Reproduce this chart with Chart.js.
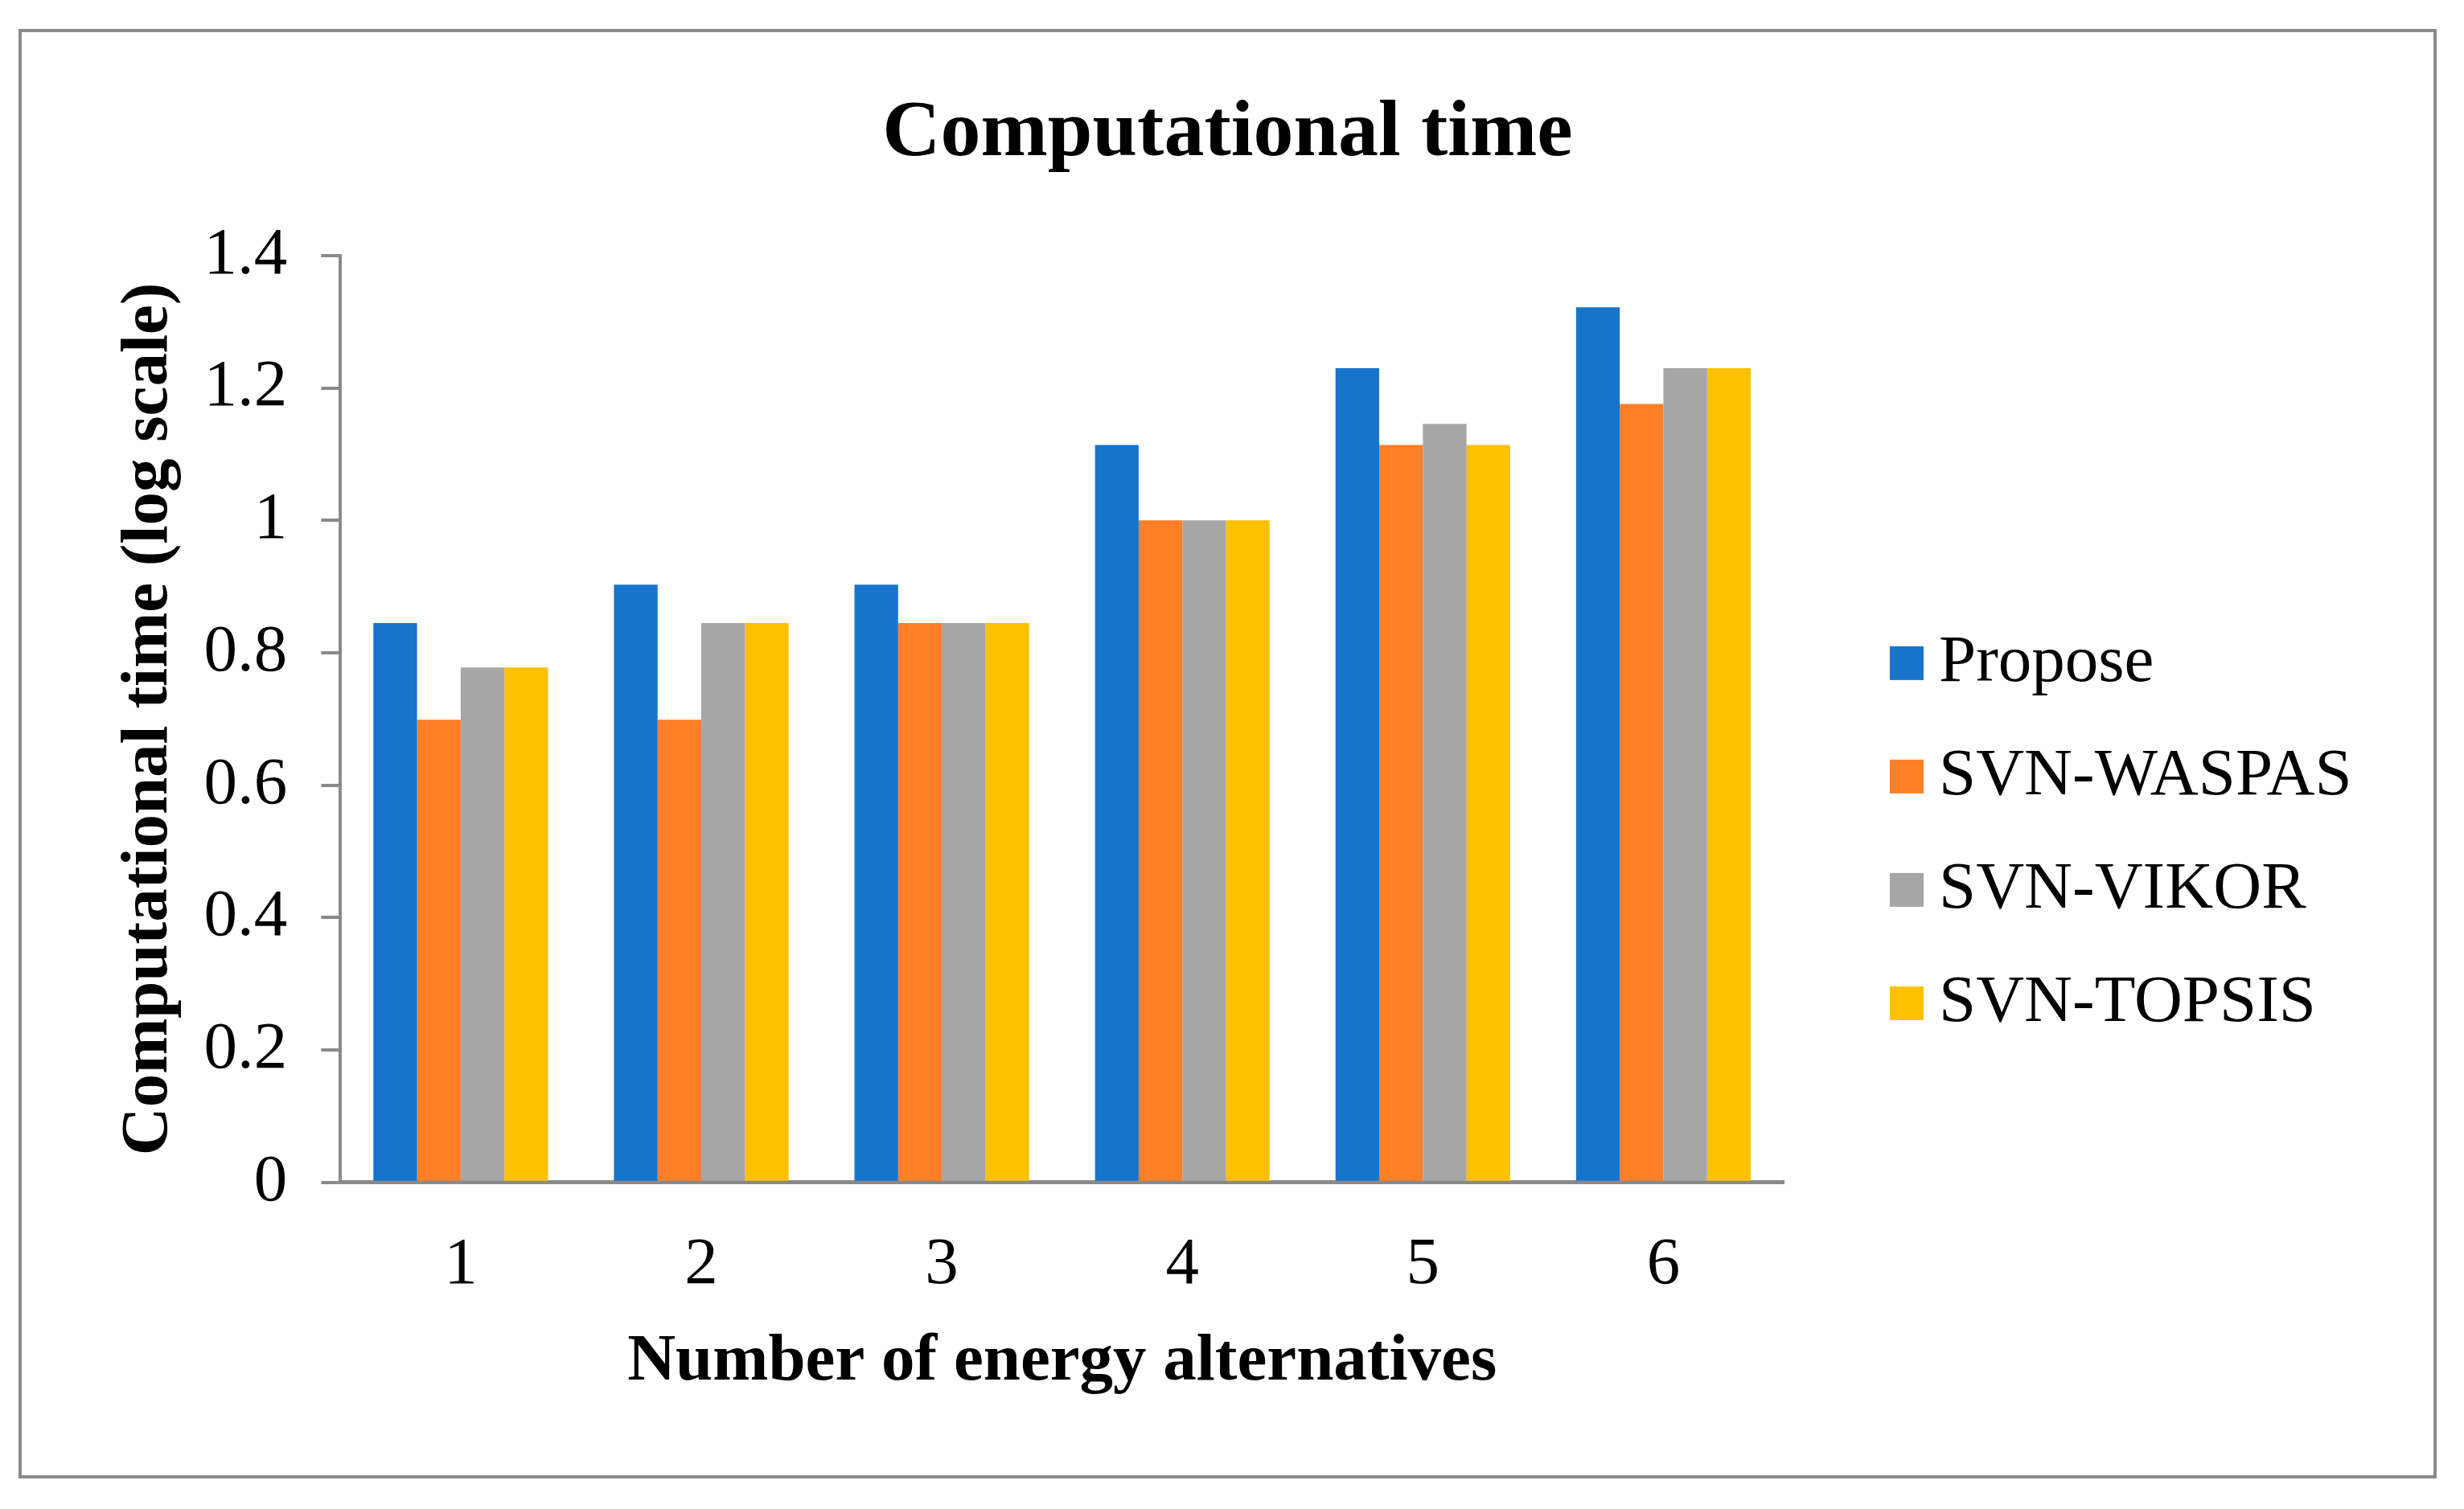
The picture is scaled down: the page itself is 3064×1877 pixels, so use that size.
<!DOCTYPE html>
<html>
<head>
<meta charset="utf-8">
<title>Computational time</title>
<script src="https://cdn.jsdelivr.net/npm/chart.js@4.4.0/dist/chart.umd.min.js"></script>
<style>
    html, body { margin: 0; padding: 0; background: #ffffff; }
    #marco {
        position: absolute;
        left: 23px;
        top: 36px;
        width: 3007px;
        height: 1803px;
        box-sizing: border-box;
        border: 4px solid #8a8a8a;
        background: #ffffff;
    }
    #myChart { display: block; }
</style>
</head>
<body>
<div id="marco">
    <canvas id="myChart" width="2999" height="1795"></canvas>
</div>
<script>
// datos (escala log)
const categorias = ['1', '2', '3', '4', '5', '6'];
const propose = [0.845, 0.903, 0.903, 1.114, 1.230, 1.322];
const waspas  = [0.699, 0.699, 0.845, 1.000, 1.114, 1.176];
const vikor   = [0.778, 0.845, 0.845, 1.000, 1.146, 1.230];
const topsis  = [0.778, 0.845, 0.845, 1.000, 1.114, 1.230];
const nombres = ['Propose', 'SVN-WASPAS', 'SVN-VIKOR', 'SVN-TOPSIS'];
const colores = ['#1874CB', '#FF7F27', '#A6A6A6', '#FFC000'];
const yTicks = [0, 0.2, 0.4, 0.6, 0.8, 1, 1.2, 1.4];
const yTickLabels = ['0', '0.2', '0.4', '0.6', '0.8', '1', '1.2', '1.4'];

const fuente = "'Liberation Serif', 'Times New Roman', serif";
const gris = '#8a8a8a';

const series = [propose, waspas, vikor, topsis];
const datasets = series.map((valores, i) => ({
    label: nombres[i],
    data: valores,
    backgroundColor: colores[i],
    borderWidth: 0,
    yAxisID: 'y',
    categoryPercentage: 0.726,
    barPercentage: 1
}));

// leyenda a la derecha, separada del area del grafico
const leyenda = {
    id: 'leyenda',
    afterDraw(chart) {
        const c = chart.ctx;
        const area = chart.chartArea;
        const x0 = area.right + 132;
        const paso = 141;
        const n = chart.data.datasets.length;
        const y0 = (area.top + area.bottom) / 2 + 142 - (n - 1) * paso / 2;
        c.save();
        c.font = "83px " + fuente;
        c.textBaseline = 'middle';
        c.textAlign = 'left';
        chart.data.datasets.forEach((ds, i) => {
            const y = y0 + i * paso;
            c.fillStyle = ds.backgroundColor;
            c.fillRect(x0, y - 21, 42, 42);
            c.fillStyle = '#000';
            c.fillText(ds.label, x0 + 61, y);
        });
        c.restore();
    }
};

function pintar() {
    const ctx = document.getElementById('myChart');
    const myChart = new Chart(ctx, {
        type: 'bar',
        data: {
            labels: categorias,
            datasets: datasets
        },
        plugins: [leyenda],
        options: {
            responsive: false,
            animation: false,
            devicePixelRatio: 1,
            layout: {
                padding: { left: 0, right: 0, top: 0, bottom: 91 }
            },
            scales: {
                x: {
                    grid: { display: false, drawTicks: false },
                    border: { display: true, color: gris, width: 5 },
                    ticks: {
                        color: '#000',
                        padding: 54,
                        font: { family: fuente, size: 83 }
                    },
                    title: {
                        display: true,
                        text: 'Number of energy alternatives',
                        color: '#000',
                        padding: { top: -34, bottom: 0 },
                        font: { family: fuente, size: 83, weight: 'bold' }
                    }
                },
                y: {
                    min: 0,
                    max: 1.4,
                    afterBuildTicks: (escala) => {
                        escala.ticks = yTicks.map(v => ({ value: v }));
                    },
                    grid: {
                        display: true,
                        drawOnChartArea: false,
                        drawTicks: true,
                        tickLength: 24,
                        color: gris,
                        lineWidth: 4
                    },
                    border: { display: true, color: gris, width: 4 },
                    ticks: {
                        color: '#000',
                        padding: 42,
                        font: { family: fuente, size: 83 },
                        callback: (valor, i) => yTickLabels[i]
                    },
                    title: {
                        display: true,
                        text: 'Computational time (log scale)',
                        color: '#000',
                        padding: { top: 109, bottom: -24 },
                        font: { family: fuente, size: 83, weight: 'bold' }
                    }
                },
                // espacio vacio a la derecha para la leyenda
                hueco: {
                    type: 'linear',
                    position: 'right',
                    display: true,
                    grid: { display: false, drawTicks: false },
                    border: { display: false },
                    ticks: { display: false },
                    afterFit: (escala) => { escala.width = 808; }
                }
            },
            plugins: {
                title: {
                    display: true,
                    text: 'Computational time',
                    color: '#000',
                    padding: { top: 67, bottom: 91 },
                    font: { family: fuente, size: 100, weight: 'bold' }
                },
                legend: { display: false },
                tooltip: { enabled: false }
            }
        }
    });
}

Promise.all([
    document.fonts.load("83px 'Liberation Serif'"),
    document.fonts.load("bold 83px 'Liberation Serif'")
]).then(pintar, pintar);
</script>
</body>
</html>
